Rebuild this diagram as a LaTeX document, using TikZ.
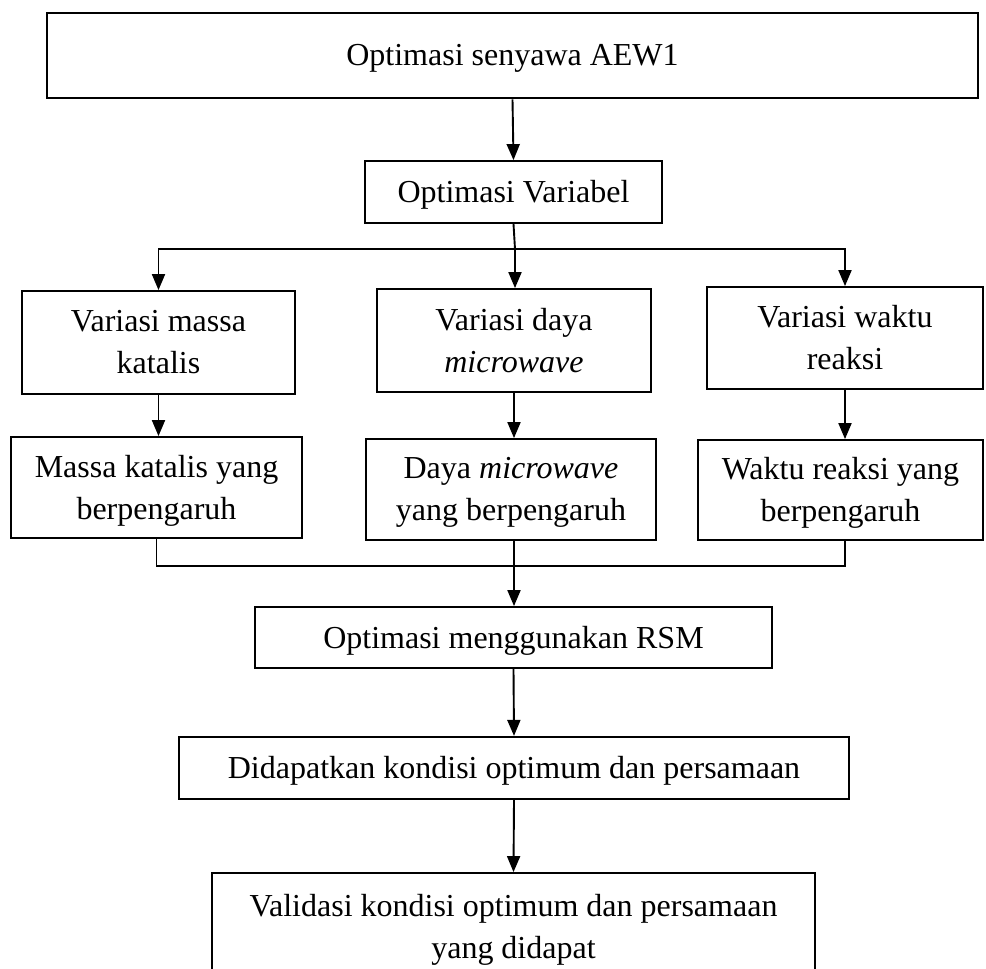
\documentclass[tikz,border=0pt]{standalone}
\usepackage{fontspec}
\setmainfont{Liberation Serif}
\usetikzlibrary{arrows.meta}
\begin{document}
\begin{tikzpicture}[x=1pt,y=-1pt,
  box/.style={draw, line width=1.8pt, inner sep=0pt, align=center, text depth=1pt, font=\fontsize{32}{42}\selectfont},
  arr/.style={line width=1.9pt, -{Triangle[width=13pt,length=16pt]}},
  ln/.style={line width=1.9pt}]
\useasboundingbox (0,0) rectangle (986,969);
\clip (0,0) rectangle (986,969);
\node[box, line width=2.6pt, minimum width=931pt, minimum height=85pt] (top) at (512.5,55.5) {Optimasi senyawa AEW1};
\node[box, minimum width=297pt, minimum height=62pt] (var) at (513.5,192) {Optimasi Variabel};
\node[box, minimum width=273pt, minimum height=103pt] (b1) at (158.5,342.5) {Variasi massa\\katalis};
\node[box, minimum width=274pt, minimum height=103pt] (b2) at (514,340.5) {Variasi daya\\\textit{microwave}};
\node[box, minimum width=276pt, minimum height=102pt] (b3) at (845,338) {Variasi waktu\\reaksi};
\node[box, minimum width=291pt, minimum height=101pt] (b4) at (156.5,487.5) {Massa katalis yang\\berpengaruh};
\node[box, minimum width=290pt, minimum height=101pt] (b5) at (511,489.5) {Daya \textit{microwave}\\yang berpengaruh};
\node[box, minimum width=285pt, minimum height=100pt] (b6) at (840.5,490) {Waktu reaksi yang\\berpengaruh};
\node[box, minimum width=517pt, minimum height=61pt] (rsm) at (513.5,637.5) {Optimasi menggunakan RSM};
\node[box, line width=2.2pt, minimum width=670pt, minimum height=62pt] (did) at (514,768) {Didapatkan kondisi optimum dan persamaan};
\node[box, minimum width=603pt, minimum height=107pt] (val) at (513.5,926.5) {Validasi kondisi optimum dan persamaan\\yang didapat};
\coordinate (j1) at (515,249);
\coordinate (j2) at (514,566);
\draw[arr] (top.south) -- (var.north);
\draw[ln] (var.south) -- (j1);
\draw[arr] (j1) -- (j1 |- b2.north);
\draw[arr] (j1) -| (b1.north);
\draw[arr] (j1) -| (b3.north);
\draw[arr] (b1.south) -- (b1.south |- b4.north);
\draw[arr] (b2.south) -- (b2.south |- b5.north);
\draw[arr] (b3.south) -- (b3.south |- b6.north);
\draw[ln] (b4.south) |- (j2);
\draw[ln] (b6.south -| b3.south) |- (j2);
\draw[arr] (j2 |- b5.south) -- (j2 |- rsm.north);
\draw[arr] (rsm.south) -- (did.north);
\draw[arr] (did.south) -- (val.north);
\end{tikzpicture}
\end{document}
